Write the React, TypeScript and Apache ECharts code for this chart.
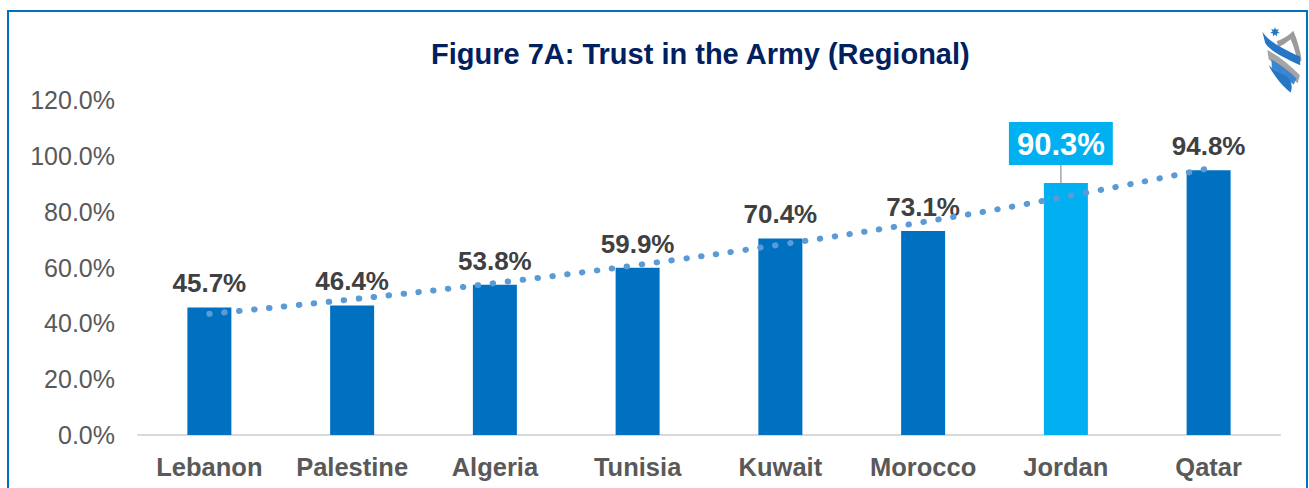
import React, { useEffect, useRef } from "react";
import * as echarts from "echarts";

const categories = ["Lebanon", "Palestine", "Algeria", "Tunisia", "Kuwait", "Morocco", "Jordan", "Qatar"];
const trustValues = [45.7, 46.4, 53.8, 59.9, 70.4, 73.1, 90.3, 94.8];
// exponential trend line at each category
const trendValues = [43.4, 48.6, 54.4, 60.9, 68.2, 76.3, 85.4, 95.5];
const highlightIndex = 6;
const yMin = 0;
const yMax = 120;
const yStep = 20;

const logoPaths: Record<string, string> = {
  logoGrayMid: "M82 150 C120 170 150 195 180 226 L173 250 C140 216 110 196 86 178 Z",
  logoBlueMid: "M94 178 C125 198 150 215 170 236 L161 254 C135 232 115 217 96 205 Z",
  logoBlueBottom: "M86 196 C104 230 125 256 152 278 C160 256 152 240 140 229 C120 220 104 211 86 196 Z",
  logoGrayRight: "M110 124 C130 116 148 106 160 92 C172 120 181 150 185 182 L174 188 C168 160 160 136 152 118 C140 128 128 136 116 142 Z",
  logoBlueTop: "M67 95 C84 122 120 142 180 170 L181 196 C126 170 90 152 76 130 Z",
};

let registered = false;
function registerLogo() {
  if (registered) return;
  registered = true;
  Object.keys(logoPaths).forEach((k) => {
    echarts.graphic.registerShape(k, echarts.graphic.extendPath(logoPaths[k], {}) as any);
  });
}

function starPoints(cx: number, cy: number, r1: number, r2: number, n: number) {
  const pts: number[][] = [];
  for (let i = 0; i < n * 2; i++) {
    const r = i % 2 === 0 ? r1 : r2;
    const a = -Math.PI / 2 + (i * Math.PI) / n;
    pts.push([cx + r * Math.cos(a), cy + r * Math.sin(a)]);
  }
  return pts;
}

export default function App() {
  const ref = useRef<HTMLDivElement>(null);
  useEffect(() => {
    if (!ref.current) return;
    registerLogo();
    const chart = echarts.init(ref.current, undefined, { renderer: "svg" });
    const font = "'Liberation Sans', Arial, sans-serif";
    const pct = (v: number) => `${Number(v).toFixed(1)}%`;
    const logoBase = { x: 1240, y: 0, scaleX: 1 / 3, scaleY: 1 / 3 };
    chart.setOption({
      animation: false,
      backgroundColor: "#ffffff",
      textStyle: { fontFamily: font },
      title: {
        text: "Figure 7A: Trust in the Army (Regional)",
        left: 426,
        top: 34,
        textStyle: { fontFamily: font, fontSize: 29, fontWeight: "bold", color: "#002060" },
      },
      grid: { left: 138, right: 29, top: 100, bottom: 53 },
      xAxis: {
        type: "category",
        data: categories,
        axisLine: { lineStyle: { color: "#d9d9d9", width: 2 } },
        axisTick: { show: false },
        axisLabel: {
          interval: 0,
          fontFamily: font,
          fontSize: 25.5,
          fontWeight: "bold",
          color: "#595959",
          margin: 19,
        },
      },
      yAxis: {
        type: "value",
        min: yMin,
        max: yMax,
        interval: yStep,
        splitLine: { show: false },
        axisLine: { show: false },
        axisTick: { show: false },
        axisLabel: { fontFamily: font, fontSize: 25, color: "#595959", margin: 23, formatter: pct },
      },
      series: [
        {
          type: "bar",
          barWidth: 44,
          data: trustValues.map((v, i) =>
            i === highlightIndex
              ? {
                  value: v,
                  itemStyle: { color: "#00B0F0" },
                  label: {
                    color: "#ffffff",
                    backgroundColor: "#00B0F0",
                    padding: [7, 8, 5, 8],
                    fontSize: 31,
                    distance: 5,
                  },
                  labelLine: { show: true, lineStyle: { color: "#a6a6a6", width: 1.5 } },
                }
              : v
          ),
          itemStyle: { color: "#0070C0" },
          label: {
            show: true,
            position: "top",
            distance: 11,
            fontFamily: font,
            fontSize: 26,
            fontWeight: "bold",
            color: "#404040",
            formatter: (p: any) => pct(p.value),
          },
          labelLayout: (p: any) => (p.dataIndex === highlightIndex ? { dx: -5, dy: -13 } : {}),
          z: 2,
        },
        {
          type: "line",
          data: trendValues,
          smooth: true,
          symbol: "none",
          silent: true,
          lineStyle: { color: "#5B9BD5", width: 6, type: [0.5, 14.5], cap: "round" },
          z: 3,
        },
      ],
      graphic: [
        {
          type: "rect",
          shape: { x: 8, y: 11, width: 1299, height: 500 },
          style: { fill: "none", stroke: "#0070C0", lineWidth: 2 },
          silent: true,
        },
        { type: "logoGrayMid", ...logoBase, style: { fill: "#A5A5A5" } },
        { type: "logoBlueMid", ...logoBase, style: { fill: "#3C86D0" } },
        { type: "logoBlueBottom", ...logoBase, style: { fill: "#2576C5" } },
        { type: "logoGrayRight", ...logoBase, style: { fill: "#9B9B9B" } },
        { type: "logoBlueTop", ...logoBase, style: { fill: "#2576C5" } },
        {
          type: "polygon",
          shape: { points: starPoints(1275, 32, 5, 2.4, 7) },
          style: { fill: "#2576C5" },
        },
      ],
    });
    return () => chart.dispose();
  }, []);
  return (
    <div
      ref={ref}
      style={{ position: "fixed", left: 0, top: 0, width: 1309, height: 488, background: "#fff" }}
    />
  );
}
